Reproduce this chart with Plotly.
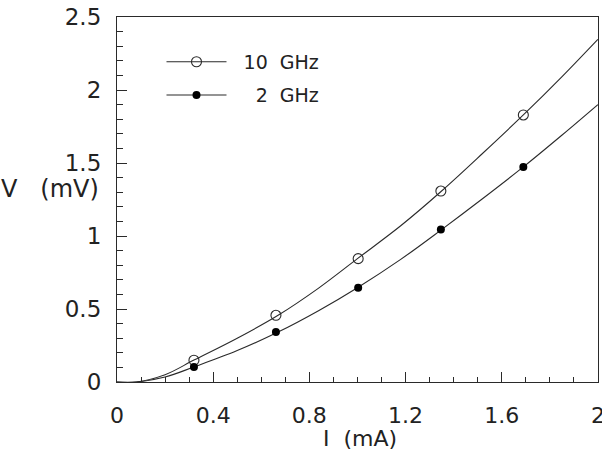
import plotly.graph_objects as go

# Curve samples (mA, mV)
curve_I = [0.0, 0.08, 0.2, 0.32, 0.5, 0.67, 0.84, 1.0, 1.18, 1.35, 1.52, 1.69, 1.85, 2.0]
v10_curve = [0.0, 0.0, 0.05, 0.15, 0.30, 0.457, 0.645, 0.845, 1.07, 1.308, 1.565, 1.829, 2.09, 2.347]
v2_curve = [0.0, 0.0, 0.034, 0.103, 0.215, 0.342, 0.49, 0.646, 0.84, 1.044, 1.255, 1.473, 1.69, 1.90]

# Marker points
mark_I = [0.32, 0.661, 1.003, 1.347, 1.69]
v10_marks = [0.149, 0.457, 0.845, 1.308, 1.829]
v2_marks = [0.103, 0.342, 0.646, 1.044, 1.473]

x_ticks = [0, 0.4, 0.8, 1.2, 1.6, 2]
x_labels = ["0", "0.4", "0.8", "1.2", "1.6", "2"]
y_ticks = [0, 0.5, 1, 1.5, 2, 2.5]
y_labels = ["0", "0.5", "1", "1.5", "2", "2.5"]

ink = "#2a2a2a"
font = "DejaVu Sans"

fig = go.Figure()
fig.add_trace(go.Scatter(x=curve_I, y=v10_curve, mode="lines", line=dict(color=ink, width=1.1, shape="spline"),
                         showlegend=False, hoverinfo="skip"))
fig.add_trace(go.Scatter(x=curve_I, y=v2_curve, mode="lines", line=dict(color=ink, width=1.1, shape="spline"),
                         showlegend=False, hoverinfo="skip"))
fig.add_trace(go.Scatter(x=mark_I, y=v10_marks, mode="markers",
                         marker=dict(symbol="circle-open", size=10, color=ink, line=dict(width=1.1)),
                         showlegend=False))
fig.add_trace(go.Scatter(x=mark_I, y=v2_marks, mode="markers",
                         marker=dict(symbol="circle", size=8, color="black"),
                         showlegend=False))
# legend entries
fig.add_trace(go.Scatter(x=[None], y=[None], mode="lines+markers", name="\u00a0\u00a010\u00a0\u00a0GHz",
                         line=dict(color=ink, width=1.1), legend="legend",
                         marker=dict(symbol="circle-open", size=10, color=ink, line=dict(width=1.1))))
fig.add_trace(go.Scatter(x=[None], y=[None], mode="lines+markers", name="\u00a0\u00a0\u20072\u00a0\u00a0GHz",
                         line=dict(color=ink, width=1.1), legend="legend2",
                         marker=dict(symbol="circle", size=8, color="black")))

leg_common = dict(xanchor="left", yanchor="middle", bgcolor="rgba(0,0,0,0)",
                  font=dict(size=19, family=font), itemwidth=60)

fig.update_layout(
    width=602, height=451,
    margin=dict(l=117, r=4, t=17, b=69, autoexpand=False),
    paper_bgcolor="white", plot_bgcolor="white",
    font=dict(family=font, color="#222", size=20),
    legend=dict(x=0.0925, y=0.877, **leg_common),
    legend2=dict(x=0.0925, y=0.786, **leg_common),
    annotations=[
        dict(text="V\u00a0\u00a0\u00a0(mV)", x=-0.245, y=0.53, xref="paper", yref="paper", showarrow=False,
             xanchor="left", yanchor="middle", font=dict(size=24, family=font)),
        dict(text="I\u00a0\u00a0(mA)", x=0.505, y=-0.154, xref="paper", yref="paper", showarrow=False,
             xanchor="center", yanchor="middle", font=dict(size=22, family=font)),
    ],
)
fig.update_xaxes(range=[0, 2.0005], tickvals=x_ticks, ticktext=x_labels, ticks="inside", ticklen=10,
                 tickcolor=ink, showline=True, linecolor=ink, linewidth=1.2, mirror=True,
                 showgrid=False, zeroline=False, tickfont=dict(size=22), ticklabelstandoff=13,
                 ticklabeloverflow="allow", automargin=False,
                 minor=dict(dtick=0.1, ticks="inside", ticklen=5, tickcolor=ink, showgrid=False))
fig.update_yaxes(range=[0, 2.5], tickvals=y_ticks, ticktext=y_labels, ticks="inside", ticklen=10,
                 tickcolor=ink, showline=True, linecolor=ink, linewidth=1.2, mirror=True,
                 showgrid=False, zeroline=False, tickfont=dict(size=23), ticklabelstandoff=10,
                 automargin=False,
                 minor=dict(dtick=0.1, ticks="inside", ticklen=6, tickcolor=ink, showgrid=False))

fig.write_html("out.html")
